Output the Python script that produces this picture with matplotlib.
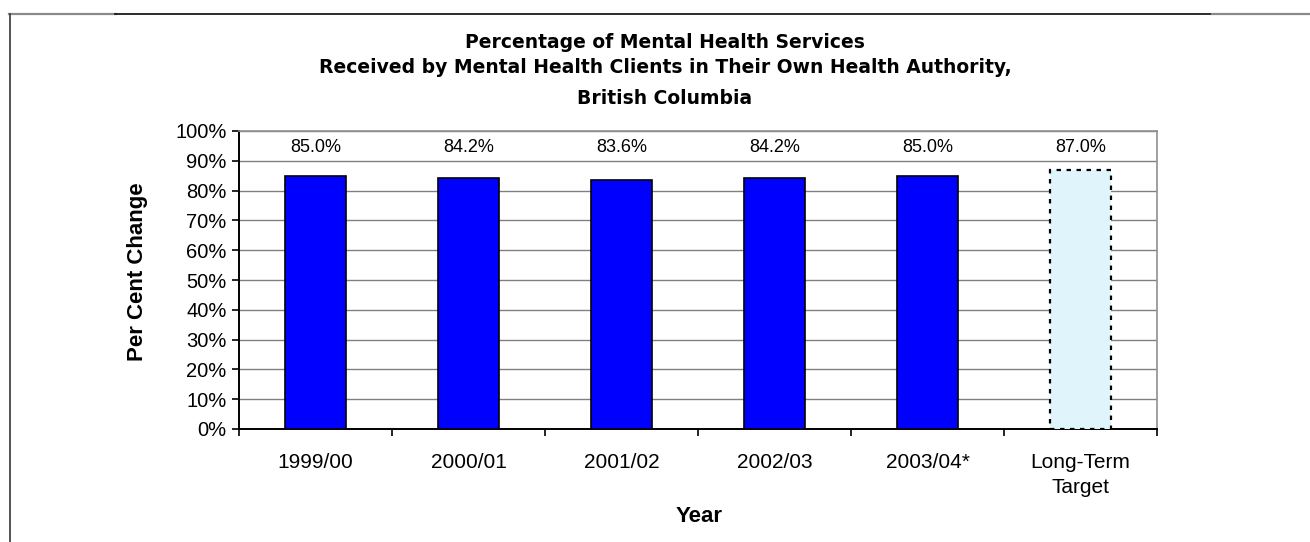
import numpy as np
import matplotlib.pyplot as plt
from matplotlib.lines import Line2D

plt.rcParams["font.family"] = ["Liberation Sans", "DejaVu Sans"]

years = ["1999/00", "2000/01", "2001/02", "2002/03", "2003/04*", "Long-Term\nTarget"]
pct = [85.0, 84.2, 83.6, 84.2, 85.0, 87.0]
yticks = [0, 10, 20, 30, 40, 50, 60, 70, 80, 90, 100]
title_lines = [
    "Percentage of Mental Health Services",
    "Received by Mental Health Clients in Their Own Health Authority,",
    "British Columbia",
]

fig = plt.figure(figsize=(13.1, 5.42), dpi=100)
W, H = 1310, 542

def px(x, y):
    # pixel position (from top-left) -> figure fraction
    return x / W, 1 - y / H

# outer frame: top rule (lighter at the ends) and left edge
top = 1 - 14 / H
fig.add_artist(Line2D([9 / W, 116 / W], [top, top], color="#8a8a8a", lw=1.6))
fig.add_artist(Line2D([115 / W, 1213 / W], [top, top], color="#1a1a1a", lw=1.3))
fig.add_artist(Line2D([1212 / W, 1], [top, top], color="#8a8a8a", lw=1.6))
fig.add_artist(Line2D([9.5 / W] * 2, [0, top], color="#444444", lw=1.3))

ax = fig.add_axes([239 / W, 1 - 429 / H, (1157 - 239) / W, (429 - 131) / H])
x = np.arange(len(years))

# measured years, then the dotted target bar
ax.bar(x[:-1], pct[:-1], width=0.405, color="#0000FF", edgecolor="black", lw=1.2, zorder=3)
ax.bar(x[-1], pct[-1], width=0.405, color="#E0F4FC", edgecolor="black", lw=1.6,
       linestyle=(0, (2, 2.5)), zorder=3)

for xi, v in zip(x, pct):
    ax.text(xi, 94.6, f"{v:.1f}%", ha="center", va="center", fontsize=13)

ax.set_xlim(-0.5, len(years) - 0.5)
ax.set_ylim(0, 100)
ax.set_yticks(yticks)
ax.set_yticklabels([f"{t}%" for t in yticks], fontsize=14.5)
ax.set_xticks(x)
ax.set_xticklabels(years, fontsize=15, linespacing=1.42)
ax.set_xticks(np.arange(-0.5, len(years)), minor=True)
ax.tick_params(axis="x", which="major", length=0, pad=17)
ax.tick_params(axis="x", which="minor", length=5, width=1.2, direction="out")
ax.tick_params(axis="y", length=5, width=1.2, direction="out", pad=4)

ax.grid(axis="y", color="#808080", lw=1, zorder=0)
for side in ["top", "right"]:
    ax.spines[side].set_color("#909090")
    ax.spines[side].set_linewidth(1.2)
for side in ["left", "bottom"]:
    ax.spines[side].set_color("black")
    ax.spines[side].set_linewidth(1.4)

fig.text(*px(137, 272), "Per Cent Change", rotation=90, ha="center", va="center",
         fontsize=16, fontweight="bold")
fig.text(*px(699, 516), "Year", ha="center", va="center", fontsize=16, fontweight="bold")

for line, y in zip(title_lines, [43, 67.5, 99]):
    fig.text(*px(665, y), line, ha="center", va="center", fontsize=13.5,
             fontweight="bold", family="DejaVu Sans")

fig.savefig("out.png", dpi=100)
